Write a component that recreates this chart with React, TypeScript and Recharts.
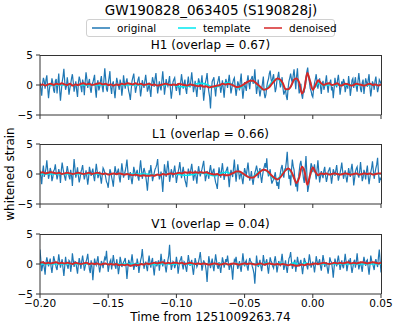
import { LineChart, Line, XAxis, YAxis } from "recharts";

const T0 = -0.2;
const RAW_STEP = 0.000625;
const FIT_STEP = 0.002;

const xTicks = [-0.2, -0.15, -0.1, -0.05, 0, 0.05];
const yTicks = [-5, 0, 5];
const seriesNames = ["original", "template", "denoised"];
const detectors = ["H1", "L1", "V1"];
const overlaps = [0.67, 0.66, 0.04];

const h1Original = [
  0.4, -0.5, -1.8, 0.2, 1.2, 0.6, -0.6, 0.9, 1.6, -0.4, -2.2, -0.8, 0.3, -0.2, 1.1, 0.4, -0.9, -1.3, 0.7, 1.0,
  -1.4, 0.3, 1.9, -0.7, -2.6, -1.0, 0.5, 1.4, 2.7, 0.6, -0.8, -0.2, 1.3, 0.1, -1.6, -0.6, 0.2, 1.1, 1.8, 0.5,
  -1.1, -0.2, 0.6, -0.9, -2.0, 0.3, 1.4, 0.8, -0.3, -1.2, 0.9, 0.2, -1.7, 0.5, 2.1, 1.0, -0.5, 0.4, 1.0, -0.6,
  -1.3, 0.1, 0.4, 1.0, 1.7, -0.8, -2.1, 0.2, 0.8, -0.9, -0.4, 0.7, 1.5, -0.3, -1.2, 0.9, 2.8, 1.1, -0.7, -1.1,
  0.3, 1.2, 2.3, -0.4, -1.5, 0.2, 0.6, -1.0, -2.2, -0.3, 1.2, 0.5, -0.2, -0.8, 0.9, 0.1, -1.8, -0.5, 1.6, 0.4,
  -0.6, 0.5, 1.1, 0.0, -1.0, -1.6, -2.5, -0.7, 0.7, 1.3, 1.9, 0.3, -1.3, -0.5, 0.2, 0.9, 1.4, -0.2, -1.9, -0.8,
  0.8, 0.2, -0.5, 0.7, 1.7, 0.4, -1.1, -0.6, 0.4, -0.9, -2.0, 0.1, 1.3, 0.6, -0.3, 1.1, 2.0, 0.3, -1.4, -0.4,
  0.6, -0.3, -0.9, 0.8, 2.3, 0.5, -1.6, -0.4, 1.0, 0.2, -0.2, 0.6, 1.5, -0.7, -2.3, -1.0, 0.5, 0.9, 1.2, -0.2,
  -1.0, -0.1, 0.3, -0.6, -1.7, 0.4, 1.8, 0.7, -0.6, 0.2, 0.9, -0.7, -1.5, 0.3, 1.4, 0.0, -0.4, 0.8, 2.1, 0.6,
  -1.2, -0.4, 0.7, -0.8, -2.0, -0.2, 1.1, 0.5, -0.8, 0.3, 1.6, -0.5, -2.6, -1.2, 0.4, 1.0, 2.0, 0.1, -1.1, -2.0,
  -3.9, -1.0, 0.6, 0.9, 1.3, -0.5, -1.9, -0.3, 0.2, 0.8, 1.5, 0.1, -1.3, -0.4, 0.8, -0.6, -2.1, -0.2, 1.0, 0.4,
  -0.5, 0.6, 1.7, 0.2, -1.4, -0.6, 0.3, 0.9, 1.2, -0.4, -1.8, -0.7, 0.6, 0.1, -0.9, 0.7, 1.9, -0.5, -2.3, -0.9,
  0.5, -0.3, -1.0, 0.6, 1.6, 0.3, -0.7, 0.8, 1.1, 1.5, 0.2, 0.9, 2.6, 0.4, -1.5, -0.4, 0.9, -0.8, -1.9, -0.9,
  -0.6, 0.3, 1.4, -1.3, -2.2, -1.6, -0.3, 0.5, 1.0, 1.9, 2.4, 1.0, 0.3, 1.2, 1.8, 0.2, -1.2, -0.5, 0.8, 1.4,
  2.2, 0.7, -0.4, 0.2, 1.3, -0.5, -1.6, -1.1, -0.8, -1.9, -2.5, -0.6, 0.6, 1.2, 1.9, 0.9, 0.4, 1.6, 2.6, 1.0,
  -0.7, 1.5, 2.8, 0.3, -1.4, -0.8, 0.2, -1.6, -2.3, -0.9, -1.1, 0.4, 1.2, 2.2, 2.9, 1.4, 0.5, -0.6, -1.0, -1.7,
  -2.0, -0.6, 0.3, 1.0, 1.8, 0.4, -0.6, 0.5, 1.1, -0.3, -1.5, 0.2, 0.7, -0.8, -0.2, 0.6, 1.6, -0.1, -1.3, 0.3,
  0.4, 0.9, -0.9, -0.3, -2.2, -0.6, 1.2, 0.1, -0.4, 0.8, 1.7, 0.3, -1.6, -0.5, 0.6, -0.2, 1.0, 0.5, -1.2, -0.4,
  0.3, -0.6, 1.5, 0.2, -1.8, -0.7, 0.8, 1.1, -0.5, 0.4, 1.3, -0.3, -1.1, 0.7, 2.0, 0.6, -0.7, -1.2, 0.4, 0.9,
  -1.5, -0.2, 1.1, 0.5, -0.3, 0.9, 1.8, -0.4, -1.9, -0.7, 0.6, 0.2, -0.8, 0.7, 1.4, -0.1, -1.2, -0.5, 0.9, 0.6,
  0.2,
];

const h1Template = [
  0, 0, 0, 0, 0, 0, 0, 0, 0, 0,
  0, 0, 0, 0, 0, 0, 0, 0, 0, 0,
  0, 0, 0, 0, 0, 0, 0, 0, 0, 0,
  0, 0, 0, 0, 0, 0, 0, 0, 0, 0,
  0.05, 0.1, 0.05, -0.05, -0.1, -0.05, 0.05, 0.1, 0.1, 0.0,
  -0.15, -0.25, -0.3, -0.3, -0.25, -0.15, 0.0, 0.15, 0.25, 0.3,
  0.25, 0.1, -0.1, -0.25, -0.35, -0.3, -0.1, 0.15, 0.35, 0.4,
  0.2, -0.1, -0.4, -0.5, -0.3, 0.1, 0.5, 0.7, 0.6, 0.3,
  -0.2, -0.6, -0.8, -0.6, -0.1, 0.5, 0.9, 1.0, 0.7, 0.0,
  -0.7, -0.8, -0.2, 0.7, 1.1, 0.3, -1.2, -0.6, 1.8, 0.7,
  -0.6, -0.3, 0.3, 0.1, -0.1, 0, 0, 0, 0, 0,
  0, 0, 0, 0, 0, 0, 0, 0, 0, 0,
  0, 0, 0, 0, 0, 0,
];

const h1Denoised = [
  0.0, 0.1, -0.1, 0.1, 0.2, 0.0, 0.2, 0.1, 0.3, 0.1,
  0.0, 0.2, -0.1, 0.1, 0.0, 0.2, 0.3, 0.1, 0.2, 0.0,
  0.1, 0.2, 0.3, 0.1, 0.2, 0.0, 0.1, -0.1, 0.1, 0.0,
  0.2, 0.1, 0.3, 0.2, 0.1, 0.3, 0.1, 0.2, 0.0, 0.1,
  0.2, 0.0, 0.1, -0.1, 0.0, 0.1, 0.2, 0.1, 0.0, 0.1,
  0.0, 0.2, 0.1, 0.0, -0.1, 0.1, 0.0, -0.1, -0.2, -0.1,
  -0.3, -0.2, -0.4, -0.3, -0.2, -0.1, 0.0, 0.2, 0.1, 0.2,
  0.1, -0.1, -0.35, -0.3, -0.1, 0.2, 0.5, 0.7, 0.7, 0.4,
  0.0, -0.4, -0.8, -0.7, -0.4, 0.2, 0.7, 1.1, 0.9, 0.3,
  -0.7, -0.7, -0.2, 0.8, 1.1, 0.4, -1.4, -0.4, 2.0, 0.6,
  -0.8, 0.0, 0.8, 0.3, 0.0, 0.2, 0.3, 0.0, 0.1, 0.3,
  -0.1, 0.0, 0.2, 0.1, -0.1, 0.0, 0.2, 0.1, 0.0, -0.1,
  0.1, 0.2, 0.0, 0.1, -0.1, 0.1,
];

const l1Original = [
  0.6, -0.4, -1.7, 0.3, 1.4, -0.5, 0.2, 0.9, 2.3, 0.7, -0.8, -0.1, 1.0, 0.4, -1.2, -0.6, 0.5, 0.8, 1.6, 0.2,
  -0.9, -0.2, 0.8, 0.1, -1.5, 0.6, 1.9, 0.9, 0.1, -0.5, -1.1, 0.3, 1.3, 0.5, -0.4, -0.9, 0.7, -0.3, -2.0, 0.4,
  2.5, 1.0, -0.6, 0.2, 1.1, -0.3, -1.4, -0.7, 0.3, 0.8, 1.5, 0.1, -0.9, -0.2, 0.6, -0.5, -1.8, -0.6, 1.2, 0.5,
  -0.3, 0.4, 0.9, -0.4, -1.2, 0.3, 1.7, 0.6, -0.7, -0.1, 0.4, -0.6, -1.6, -0.2, 1.0, 0.7, 0.2, -0.5, -1.3, -1.6,
  -2.3, -0.8, 0.8, 0.3, -0.5, -1.2, -2.1, -0.3, 1.3, 0.5, -0.2, 0.4, 0.9, -0.6, -1.4, 0.2, 1.8, 0.6, -0.6, 0.0,
  0.5, 1.3, 2.4, 0.6, -1.0, -0.2, 0.3, -0.8, -1.7, -0.4, 1.2, 0.5, -0.4, 0.2, 0.7, -0.6, -1.1, 0.9, 2.3, 0.8,
  -0.8, 0.2, 1.0, 0.4, -0.3, -1.4, -2.8, -0.9, 0.6, 0.1, 1.5, 0.3, -1.2, -0.5, 0.2, 0.8, 1.1, 1.6, 2.5, 0.4,
  -0.9, -0.3, 0.4, -1.1, -3.0, -0.6, 1.6, 0.5, -0.5, 0.9, 2.2, 0.7, -1.3, -0.4, 0.8, 0.2, -0.6, 0.5, 1.4, 0.1,
  -1.5, -0.5, 0.3, 1.0, 2.0, 0.6, -0.7, 0.3, 1.2, 0.1, -1.0, -1.5, -2.2, -0.4, 0.9, 0.2, -0.2, 0.8, 1.7, 0.4,
  -1.1, -0.3, 0.6, -0.5, -1.6, 0.1, 1.3, 0.4, -0.4, 0.3, 0.8, 1.5, 2.2, 0.5, -1.2, -0.4, 0.5, 0.0, -0.8, 0.6,
  1.5, 0.4, -0.3, 0.5, 0.9, -0.6, -1.4, -1.8, -2.5, -0.4, 1.1, 0.2, -0.6, 0.7, 1.8, 0.3, -1.0, -0.2, 0.4, 0.8,
  1.2, -0.6, -2.2, -0.4, 0.7, 0.1, -0.5, 1.0, 2.4, 0.3, -1.3, 0.2, 1.6, 0.5, -0.9, -0.2, 0.3, -0.8, -1.7, -0.3,
  1.0, 0.3, -0.2, 0.8, 1.9, 0.4, -1.1, -0.5, 0.5, -0.9, -1.8, -0.6, 0.2, 0.7, 1.4, 0.6, -0.7, 0.2, 1.0, -0.4,
  -1.5, -0.3, 0.6, 1.2, 1.8, 1.0, 2.6, 0.5, -0.4, 0.2, 0.8, -0.7, -1.6, -1.2, -0.9, -0.4, 0.3, -1.1, -2.0, -1.3,
  -2.5, -0.8, 0.2, 1.0, 1.5, 0.3, -0.6, 0.8, 0.9, 2.1, 3.7, 1.2, -0.8, -0.2, -1.9, 0.6, 2.4, 1.3, 0.7, -0.9,
  -2.1, -1.4, -2.9, -0.8, 0.4, 1.6, 2.2, 1.1, 0.6, -0.7, -1.5, 0.9, 3.0, 0.2, -3.0, -2.2, -1.2, 0.5, 1.8, 1.3,
  0.3, 0.9, 1.6, 0.2, -0.9, 0.8, 2.3, 0.4, -1.4, -0.5, 0.5, -0.2, -0.7, 0.6, 1.2, -0.3, -1.3, -0.6, 0.4, 0.7,
  1.1, -0.2, -1.6, -0.5, 0.8, 0.3, -0.3, 0.6, 1.5, 0.1, -1.1, -0.4, 0.2, 0.9, 1.9, 0.5, -0.8, -0.1, 0.6, -0.5,
  -1.4, -0.3, 1.0, 0.2, -0.5, 0.8, 1.7, 0.3, -1.9, -0.8, 0.4, 0.9, 1.2, -0.2, -0.6, 0.5, 2.0, 0.4, -1.2, -0.6,
  0.7, 0.1, -0.9, 0.5, 1.4, -0.4, -1.7, -0.6, 0.3, 1.0, 2.1, 0.6, -0.8, 0.2, 1.0, 1.6, 2.7, 0.3, -1.5, -0.7,
  -1.0,
];

const l1Template = [
  0, 0, 0, 0, 0, 0, 0, 0, 0, 0,
  0, 0, 0, 0, 0, 0, 0, 0, 0, 0,
  0, 0, 0, 0, 0, 0, 0, 0, 0, 0,
  0, 0, 0, 0, 0, 0, 0, 0, 0, 0,
  -0.05, -0.1, -0.15, -0.15, -0.1, -0.05, 0.0, 0.05, 0.05, 0.0,
  -0.05, -0.1, -0.15, -0.2, -0.2, -0.15, -0.1, 0.0, 0.1, 0.15,
  0.1, 0.0, -0.15, -0.25, -0.3, -0.2, 0.0, 0.2, 0.3, 0.25,
  0.0, 0.2, 0.35, 0.3, 0.1, -0.2, -0.45, -0.55, -0.45, -0.1,
  0.3, 0.6, 0.7, 0.5, 0.0, -0.5, -0.8, -0.8, -0.4, 0.2,
  0.7, 0.8, 0.3, -0.6, -1.3, -0.4, 1.0, 0.5, -1.5, -0.4,
  0.9, 0.3, -0.3, 0.1, 0, 0, 0, 0, 0, 0,
  0, 0, 0, 0, 0, 0, 0, 0, 0, 0,
  0, 0, 0, 0, 0, 0,
];

const l1Denoised = [
  0.2, 0.3, 0.1, 0.2, 0.3, 0.2, 0.1, 0.2, 0.0, 0.1,
  0.2, 0.1, 0.0, 0.1, 0.2, 0.1, 0.0, 0.1, 0.2, 0.0,
  0.1, 0.2, 0.1, 0.0, 0.1, -0.1, 0.0, 0.1, 0.0, 0.1,
  0.0, -0.1, 0.0, -0.1, -0.2, -0.1, -0.2, -0.3, -0.2, -0.3,
  -0.3, -0.2, -0.3, -0.1, -0.2, 0.0, -0.1, 0.0, 0.1, 0.0,
  0.1, 0.2, 0.1, 0.3, 0.2, 0.3, 0.2, 0.3, 0.2, 0.3,
  0.2, 0.3, 0.1, 0.0, -0.1, 0.0, -0.2, -0.1, -0.2, -0.2,
  0.0, 0.2, 0.4, 0.4, 0.2, -0.1, -0.4, -0.6, -0.6, -0.3,
  0.1, 0.5, 0.7, 0.6, 0.2, -0.3, -0.7, -0.9, -0.6, 0.0,
  0.6, 0.9, 0.5, -0.5, -1.5, -0.6, 1.2, 0.4, -1.8, -0.2,
  1.1, 0.3, -0.2, 0.1, 0.0, 0.1, -0.1, 0.0, 0.1, 0.0,
  -0.1, 0.0, 0.1, 0.0, -0.1, 0.0, 0.1, -0.1, 0.0, 0.1,
  0.0, 0.1, -0.1, 0.0, 0.1, 0.1,
];

const v1Original = [
  2.4, 0.6, -1.2, -0.3, 0.5, -0.6, -1.8, 0.2, 1.1, 0.4, -0.4, 0.3, 0.9, -0.5, -1.5, -0.2, 1.3, 0.7, 0.2, -0.6,
  -1.0, 0.3, 1.6, 0.5, -0.6, 0.2, 0.8, -0.7, -2.0, -0.4, 1.2, 0.1, -0.3, -0.8, 0.6, 0.4, -1.3, -0.2, 1.8, 0.6,
  -0.5, 0.4, 0.3, -0.7, -1.6, -0.1, 1.0, 0.2, -0.8, 0.5, 1.4, 0.3, -1.1, -0.4, 0.4, 0.9, 1.7, 0.2, -0.9, -1.5,
  0.6, -0.5, -2.7, -0.9, 0.9, 0.2, -0.2, 0.6, 1.3, -0.3, -1.4, -0.5, 0.5, 0.1, -0.7, 0.4, 1.1, 0.8, 2.2, 0.3,
  -1.3, -0.4, 0.4, 0.7, -0.9, 0.2, 1.5, 0.4, -0.3, -0.8, 0.8, -0.2, -1.7, -0.6, 1.2, 0.5, -0.5, -0.1, 0.3, 0.6,
  1.0, -0.6, -2.5, -0.8, 0.7, 0.2, -0.4, 0.5, 1.6, 0.3, -1.0, -0.3, 0.2, -0.5, 0.9, 0.1, -1.5, -0.4, 0.6, 1.2,
  2.5, 0.8, -0.8, 0.1, 0.3, -0.5, -1.2, 0.4, 1.4, 0.2, -0.6, 0.5, 1.0, -0.7, -1.9, -0.3, 0.5, -0.4, 0.1, 0.6,
  -1.1, 0.2, 1.7, 0.4, -0.4, 0.3, 0.8, -0.5, -1.4, -0.2, 0.6, 1.4, 3.2, 0.7, -1.0, -0.3, 0.4, 0.2, -0.7, -0.1,
  1.2, 0.3, -1.6, -0.5, 0.5, 0.8, 1.3, -0.2, -0.9, 0.4, 0.2, -0.6, -1.3, 0.1, 1.5, 0.5, -0.3, 0.2, 0.7, -0.8,
  -1.8, -0.4, 1.0, 0.3, -0.5, -0.1, 0.4, 1.1, 2.0, 0.5, -1.1, -0.3, 0.6, 0.2, -0.2, -1.2, -3.0, -0.6, 1.3, 0.4,
  -0.7, 0.2, 0.9, -0.4, -1.2, 0.3, 1.6, 0.6, -0.4, -0.8, 0.3, -0.5, -1.5, -0.2, 1.1, 0.4, -0.6, 0.1, 0.8, 0.3,
  1.4, 0.2, -1.0, -0.3, 0.2, -0.9, -2.6, -0.5, 0.7, 0.4, 1.2, 0.1, -0.8, -0.2, 0.5, -0.6, -1.3, 0.3, 1.8, 0.5,
  -0.4, 0.3, 0.6, -0.5, -1.1, 0.2, 1.0, 0.5, 0.3, -0.4, -0.9, -1.6, -3.3, -0.8, 1.4, 0.2, -0.5, 0.1, 0.7, -0.3,
  -1.2, -0.1, 1.5, 0.4, -0.3, 0.3, 0.8, -0.6, -1.6, -0.2, 1.1, 0.5, 0.2, -0.4, -0.7, 0.6, 1.3, 0.1, -1.4, -0.5,
  0.5, 0.1, -0.2, 0.6, 1.7, 0.3, -1.0, -0.3, 0.6, -0.6, -1.5, -0.2, 0.9, 1.2, 2.0, 0.4, -0.8, -0.3, 0.3, 0.7,
  -1.3, -0.2, 1.2, 0.3, -0.4, 0.2, 0.7, -0.5, -1.7, -0.4, 1.0, 0.5, 0.1, -0.3, -0.9, 0.4, 1.6, 0.6, -0.6, -0.1,
  0.4, -0.3, -1.4, -0.2, 1.3, 0.5, -0.2, 0.3, 0.8, -0.4, -1.1, 0.2, 1.5, 0.6, -0.5, 0.1, 0.2, -0.7, -1.6, -0.4,
  1.1, 0.5, 0.3, -0.8, -2.3, -0.6, 0.9, 0.2, -0.4, 0.6, 1.4, 0.3, -1.0, -0.2, 0.6, -0.3, -0.7, 0.4, 1.7, 0.5,
  -1.2, -0.3, 0.5, 0.2, 1.0, -0.4, -1.5, -0.6, 0.3, 0.7, -0.6, 0.4, 1.8, 0.3, -0.9, -0.2, 0.4, -0.5, -1.3, 0.2,
  1.2, 0.4, -0.3, 0.5, 0.7, -0.6, -1.8, -0.3, 1.4, 0.6, 0.2, -0.4, -1.0, 0.3, 0.8, 0.1, -0.5, 1.1, 2.4, 0.5,
  -1.4,
];

const v1Template = [
  0, 0, 0, 0, 0, 0, 0, 0, 0, 0,
  0, 0, 0, 0, 0, 0, 0, 0, 0, 0,
  0, 0, 0, 0, 0, 0, 0, 0, 0, 0,
  0, 0, 0, 0, 0, 0, 0, 0, 0, 0,
  -0.05, -0.1, -0.1, -0.05, 0.0, 0.05, 0.05, 0.0, -0.05, -0.05,
  0.0, 0.05, 0.1, 0.05, 0.0, -0.05, -0.1, -0.05, 0.0, 0.05,
  0.1, 0.05, -0.05, -0.1, -0.05, 0.05, 0.1, 0.05, -0.05, -0.1,
  -0.05, 0.05, 0.1, 0.05, -0.1, -0.1, 0.0, 0.1, 0.1, -0.05,
  -0.15, -0.1, 0.05, 0.15, 0.05, -0.1, -0.15, 0.0, 0.15, 0.1,
  -0.1, -0.2, 0.0, 0.2, 0.05, -0.2, -0.1, 0.2, 0.1, -0.2,
  0.05, 0.1, -0.05, 0, 0, 0, 0, 0, 0, 0,
  0, 0, 0, 0, 0, 0, 0, 0, 0, 0,
  0, 0, 0, 0, 0, 0,
];

const v1Denoised = [
  0.2, 0.3, 0.1, 0.2, 0.1, 0.2, 0.3, 0.1, 0.2, 0.1,
  0.2, 0.1, 0.0, 0.2, 0.1, 0.0, 0.1, 0.2, 0.0, 0.1,
  0.0, 0.1, -0.1, 0.0, 0.1, -0.1, 0.0, -0.1, 0.0, -0.2,
  -0.1, -0.2, -0.1, -0.3, -0.2, -0.1, -0.2, 0.0, -0.1, 0.1,
  0.0, 0.1, 0.2, 0.1, 0.2, 0.3, 0.1, 0.2, 0.1, 0.2,
  0.2, 0.1, 0.2, 0.0, 0.1, 0.2, 0.1, 0.0, 0.1, 0.0,
  0.1, 0.0, -0.1, 0.0, 0.1, 0.0, -0.1, 0.0, 0.1, -0.1,
  0.0, 0.1, 0.0, -0.1, 0.0, 0.1, 0.0, 0.1, 0.0, -0.1,
  0.0, 0.1, -0.1, 0.0, 0.1, 0.0, -0.1, 0.0, -0.1, 0.0,
  -0.1, -0.2, -0.1, -0.2, -0.3, -0.2, -0.1, -0.2, 0.0, -0.1,
  0.0, 0.1, 0.0, 0.1, 0.2, 0.1, 0.0, 0.1, 0.2, 0.1,
  0.2, 0.1, 0.2, 0.3, 0.1, 0.2, 0.1, 0.2, 0.3, 0.2,
  0.1, 0.2, 0.3, 0.2, 0.1, 0.2,
];

const COLORS = ["#1f77b4", "#00e8f0", "#d62728"];
const FONT = "'DejaVu Sans', sans-serif";
const AXIS = "#333";

// top edge of each panel's plot box, page pixels
const panelTops = [55, 144, 234];
const PLOT_LEFT = 40;
const PLOT_W = 341;
const PLOT_H = 60;

const toRows = (values: number[], step: number) =>
  values.map((v, i) => ({ t: +(T0 + i * step).toFixed(6), v }));

const minus = (s: string) => s.replace("-", "\u2212");

const panels = [
  { original: h1Original, template: h1Template, denoised: h1Denoised },
  { original: l1Original, template: l1Template, denoised: l1Denoised },
  { original: v1Original, template: v1Template, denoised: v1Denoised },
];

// matplotlib closes the box with top and right spines
function Frame({ top }: { top: number }) {
  return (
    <div
      style={{
        position: "absolute",
        left: PLOT_LEFT,
        top: top - 0.5,
        width: PLOT_W + 0.5,
        height: PLOT_H,
        borderTop: `1px solid ${AXIS}`,
        borderRight: `1px solid ${AXIS}`,
        boxSizing: "border-box",
        zIndex: 5,
      }}
    />
  );
}

function Panel({ index }: { index: number }) {
  const p = panels[index];
  const last = index === panels.length - 1;
  const top = panelTops[index];
  return (
    <div style={{ position: "absolute", left: 0, top: top - 8 }}>
      <LineChart
        width={398}
        height={8 + PLOT_H + 20}
        data={toRows(p.original, RAW_STEP)}
        margin={{ top: 8, right: 17, bottom: 0, left: 10 }}
      >
        <XAxis
          dataKey="t"
          type="number"
          domain={[-0.2, 0.05]}
          ticks={xTicks}
          interval={0}
          allowDataOverflow
          height={20}
          tickSize={4}
          tickMargin={2}
          stroke={AXIS}
          tick={{ fill: "#000", fontSize: 10.5, fontFamily: FONT }}
          tickFormatter={(v: number) => (last ? minus(v.toFixed(2)) : "")}
        />
        <YAxis
          type="number"
          domain={[-5, 5]}
          ticks={yTicks}
          interval={0}
          allowDataOverflow
          width={30}
          tickSize={4}
          tickMargin={3}
          stroke={AXIS}
          tick={{ fill: "#000", fontSize: 10.5, fontFamily: FONT }}
          tickFormatter={(v: number) => minus(String(v))}
        />
        <Line
          dataKey="v"
          type="linear"
          stroke={COLORS[0]}
          strokeWidth={1.2}
          dot={false}
          activeDot={false}
          isAnimationActive={false}
        />
        <Line
          data={toRows(p.template, FIT_STEP)}
          dataKey="v"
          type="monotone"
          stroke={COLORS[1]}
          strokeWidth={1.5}
          dot={false}
          activeDot={false}
          isAnimationActive={false}
        />
        <Line
          data={toRows(p.denoised, FIT_STEP)}
          dataKey="v"
          type="monotone"
          stroke={COLORS[2]}
          strokeWidth={2}
          dot={false}
          activeDot={false}
          isAnimationActive={false}
        />
      </LineChart>
    </div>
  );
}

const centered = (x: number, y: number, size: number) => ({
  position: "absolute" as const,
  left: x,
  top: y,
  transform: "translate(-50%, -50%)",
  fontSize: size,
  whiteSpace: "nowrap" as const,
  lineHeight: 1,
});

export default function App() {
  return (
    <div
      style={{
        position: "absolute",
        left: 0,
        top: 0,
        width: 398,
        height: 329,
        background: "#fff",
        fontFamily: FONT,
        color: "#000",
      }}
    >
      <div style={centered(211, 11, 13.5)}>GW190828_063405 (S190828j)</div>

      <div
        style={{
          position: "absolute",
          left: 86,
          top: 19,
          width: 247,
          height: 16,
          border: "1px solid #d0d0d0",
          borderRadius: 3,
          fontSize: 10.5,
        }}
      >
        {seriesNames.map((name, i) => (
          <div
            key={name}
            style={{
              position: "absolute",
              left: 5 + i * 86,
              top: 0,
              height: 16,
              display: "flex",
              alignItems: "center",
              whiteSpace: "nowrap",
            }}
          >
            <svg width={18} height={4} style={{ marginRight: 7 }}>
              <line x1={0} y1={2} x2={18} y2={2} stroke={COLORS[i]} strokeWidth={1.5} />
            </svg>
            <span>{name}</span>
          </div>
        ))}
      </div>

      {detectors.map((d, i) => (
        <div key={d} style={centered(210.5, panelTops[i] - 10, 12)}>
          {`${d} (overlap = ${overlaps[i].toFixed(2)})`}
        </div>
      ))}

      {detectors.map((d, i) => (
        <Panel key={d} index={i} />
      ))}

      {panelTops.map((t) => (
        <Frame key={t} top={t} />
      ))}

      <div
        style={{
          ...centered(10, 174, 12),
          transform: "translate(-50%, -50%) rotate(-90deg)",
        }}
      >
        whitened strain
      </div>

      <div style={centered(210.5, 317, 12)}>Time from 1251009263.74</div>
    </div>
  );
}
